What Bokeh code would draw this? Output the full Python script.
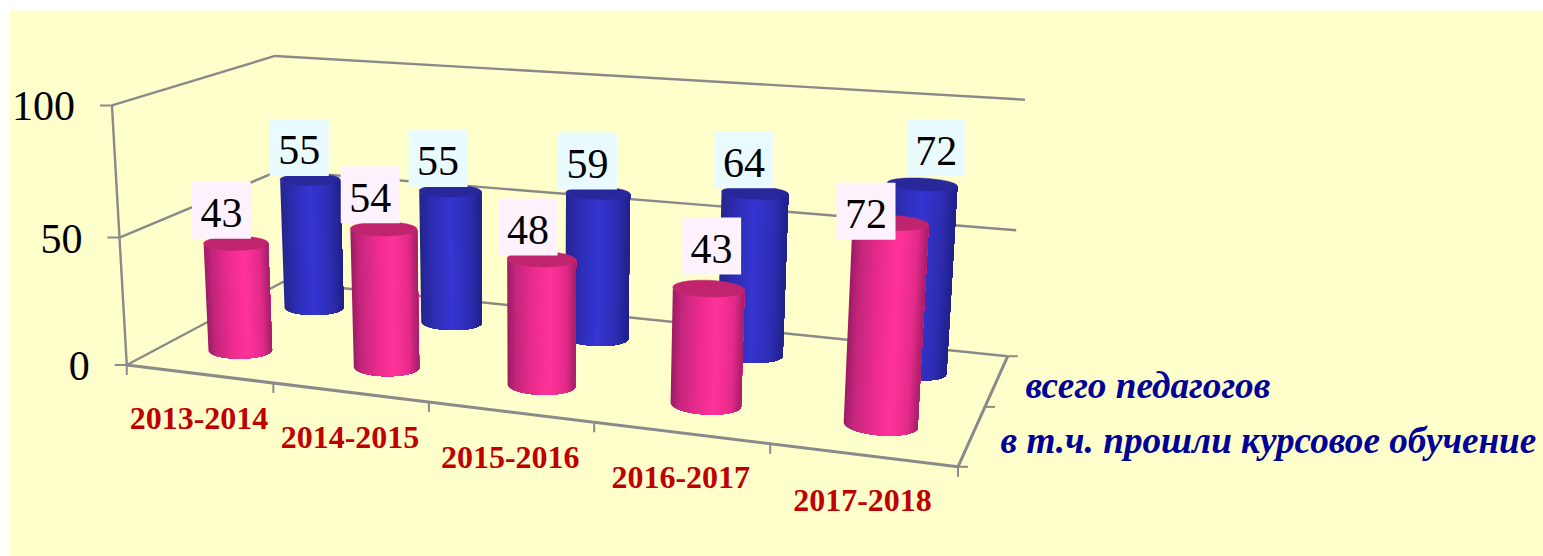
import numpy as np
from bokeh.plotting import figure
from bokeh.models import Range1d, ColumnDataSource
from bokeh.core.properties import value
from bokeh.embed import file_html
from bokeh.resources import INLINE

# ---- data ----
categories = ["2013-2014", "2014-2015", "2015-2016", "2016-2017", "2017-2018"]
series_names = ["всего педагогов", "в т.ч. прошли курсовое обучение"]
total_teachers = [55, 55, 59, 64, 72]
trained_teachers = [43, 54, 48, 43, 72]
value_ticks = [0, 50, 100]

# ---- layout: 3D frame calibration (world u,w,v -> page pixel) ----
world = [(0,0,0),(0,0,.5),(0,0,1),(0,1,0),(0,1,.5),(0,1,1),(1,1,0),(1,1,.5),(1,1,1),
         (1,0,0),(.2,0,0),(.4,0,0),(.6,0,0),(.8,0,0),(1,.5,0)]
page = [(127,364.5),(119.5,237),(110,105),(281,281),(279,170),(275.5,55.5),(1007,356),(1016,230),(1024,99),
        (958,465),(273,383),(429,402),(593,422),(769,443),(985,407)]
A, b = [], []
for (X, Y, Z), (px, py) in zip(world, page):
    A.append([X, Y, Z, 1, 0, 0, 0, 0, -px*X, -px*Y, -px*Z]); b.append(px)
    A.append([0, 0, 0, 0, X, Y, Z, 1, -py*X, -py*Y, -py*Z]); b.append(py)
m = np.linalg.lstsq(np.array(A, float), np.array(b, float), rcond=None)[0]
P = np.append(m, 1.0).reshape(3, 4)

def project(u, w, v):
    """u: 0..1 along categories, w: 0..1 depth, v: value on axis (0..100)."""
    q = P @ np.array([u, w, v / 100.0, 1.0])
    return q[0] / q[2], q[1] / q[2]

W, H = 1543, 556
p = figure(width=W, height=H, x_range=Range1d(0, W), y_range=Range1d(H, 0),
           output_backend="svg", toolbar_location=None, min_border=0,
           background_fill_color="white", border_fill_color="white", outline_line_color=None)
p.axis.visible = False
p.grid.visible = False

YELLOW = "#FFFFCC"
p.quad(left=9, right=W, top=10, bottom=H, fill_color=YELLOW, line_color=None)

GRID = "#8A8A8A"
def seg(pts, width=2.4):
    p.line([a for a, _ in pts], [c for _, c in pts], line_color=GRID, line_width=width)

# gridlines on walls, floor
for v in value_ticks:
    seg([project(0, 0, v), project(0, 1, v), project(1, 1, v)])
seg([project(0, 0, 0), project(1, 0, 0), project(1, 1, 0)], 3)
seg([project(0, 0, 0), project(0, 0, max(value_ticks))])

# ticks
TICK = 12
for v in value_ticks:
    x, y = project(0, 0, v)
    seg([(x - TICK, y), (x, y)], 2)
for i in range(len(categories) + 1):
    x, y = project(i / len(categories), 0, 0)
    seg([(x, y), (x, y + 10)], 2)
for w in (0, .5, 1):
    x, y = project(1, w, 0)
    seg([(x, y), (x + 10, y)], 2)

# ---- cylinders ----
def lerp_colors(stops, t):
    ts = [s[0] for s in stops]
    rgb = [np.interp(t, ts, [int(s[1][k:k+2], 16) for s in stops]) for k in (1, 3, 5)]
    return "#%02x%02x%02x" % tuple(int(round(c)) for c in rgb)

PINK = [(0, "#9C1C64"), (.12, "#C4267C"), (.4, "#EE2C8E"), (.62, "#FF3399"), (.85, "#E52B8A"), (1, "#A51E68")]
BLUE = [(0, "#25258E"), (.2, "#2D2DB2"), (.5, "#3535D2"), (.8, "#2D2DB2"), (1, "#20208A")]
PINK_TOP = "#C1246F"
BLUE_TOP = "#28289A"
RU, RW = 0.0405, 0.085
WPOS = {"total": 0.75, "trained": 0.25}

def draw_cylinder(uc, wc, val, stops, topcol):
    th = np.linspace(0, 2 * np.pi, 361)[:-1]
    def ring(v):
        pts = [project(uc + RU * np.cos(t), wc + RW * np.sin(t), v) for t in th]
        return np.array([q[0] for q in pts]), np.array([q[1] for q in pts])
    bx, by = ring(0)
    tx, ty = ring(val)
    il, ir = int(np.argmin(bx)), int(np.argmax(bx))
    n_ = len(th)
    a1 = [(il + k) % n_ for k in range(((ir - il) % n_) + 1)]
    a2 = [(il - k) % n_ for k in range(((il - ir) % n_) + 1)]
    arc = a1 if np.mean(by[a1]) > np.mean(by[a2]) else a2
    span = bx[ir] - bx[il]
    # overlapping layers, each reaching the right edge, so no seams appear
    xs, ys, cols = [], [], []
    STEPS = 40
    targets = np.linspace(bx[il], bx[ir], STEPS + 1)
    barc = bx[arc]
    starts = [int(np.searchsorted(barc, t)) for t in targets[:-1]]
    for s, t0, t1 in zip(starts, targets[:-1], targets[1:]):
        sub = arc[min(s, len(arc) - 2):]
        xs.append(list(bx[sub]) + list(tx[sub][::-1]))
        ys.append(list(by[sub]) + list(ty[sub][::-1]))
        cols.append(lerp_colors(stops, ((t0 + t1) / 2 - bx[il]) / span))
    src = ColumnDataSource(dict(xs=xs, ys=ys, c=cols))
    p.patches("xs", "ys", source=src, fill_color="c", line_color=None)
    p.patch(list(tx), list(ty), fill_color=topcol, line_color=topcol, line_width=0.5)

n = len(categories)
for i in range(n):
    u = (i + .5) / n
    draw_cylinder(u, WPOS["total"], total_teachers[i], BLUE, BLUE_TOP)
    draw_cylinder(u, WPOS["trained"], trained_teachers[i], PINK, PINK_TOP)

# ---- data labels (manually placed in the original, offsets from cylinder top) ----
off_total = [(-10.9, -32), (-12, -32.5), (-10.5, -32), (-11, -33), (14, -36.5)]
off_trained = [(-14.5, -33), (-13.4, -34), (-13.5, -32), (3, -42.5), (-24.5, -11.5)]
BOX_W, BOX_H = 59, 57
def labels(vals, wpos, offs, fill):
    xs, ys = [], []
    for i, (v, o) in enumerate(zip(vals, offs)):
        x, y = project((i + .5) / n, wpos, v)
        xs.append(x + o[0]); ys.append(y + o[1])
    xs, ys = np.array(xs), np.array(ys)
    p.quad(left=xs - BOX_W / 2, right=xs + BOX_W / 2, top=ys - BOX_H / 2, bottom=ys + BOX_H / 2,
           fill_color=fill, line_color=None)
    p.text(xs, ys + 3, text=[str(v) for v in vals], text_font=value("Liberation Serif"),
           text_font_size="42px", text_align="center", text_baseline="middle", text_color="black")

labels(total_teachers, WPOS["total"], off_total, "#E9FBFE")
labels(trained_teachers, WPOS["trained"], off_trained, "#FDF2FD")

# ---- tick labels ----
tx_, ty_ = [], []
for v in value_ticks:
    x, y = project(0, 0, v)
    tx_.append(x - TICK - 25); ty_.append(y + 1)
p.text(tx_, ty_, text=[str(v) for v in value_ticks], text_font=value("Liberation Serif"),
       text_font_size="42px", text_align="right", text_baseline="middle", text_color="black")

cx, cy = [], []
for i in range(n):
    x, y = project((i + .5) / n, 0, 0)
    cx.append(x); cy.append(y + 45)
p.text(cx, cy, text=categories, text_font=value("Liberation Serif"), text_font_style="bold",
       text_font_size="32px", text_align="center", text_baseline="middle", text_color="#C00000")

# ---- legend ----
p.text([1025, 1000], [384.5, 439.5], text=series_names, text_font=value("Liberation Serif"),
       text_font_style="bold italic", text_font_size="37.2px", text_align="left",
       text_baseline="middle", text_color="#000099")

open("out.html", "w").write(file_html(p, INLINE))
